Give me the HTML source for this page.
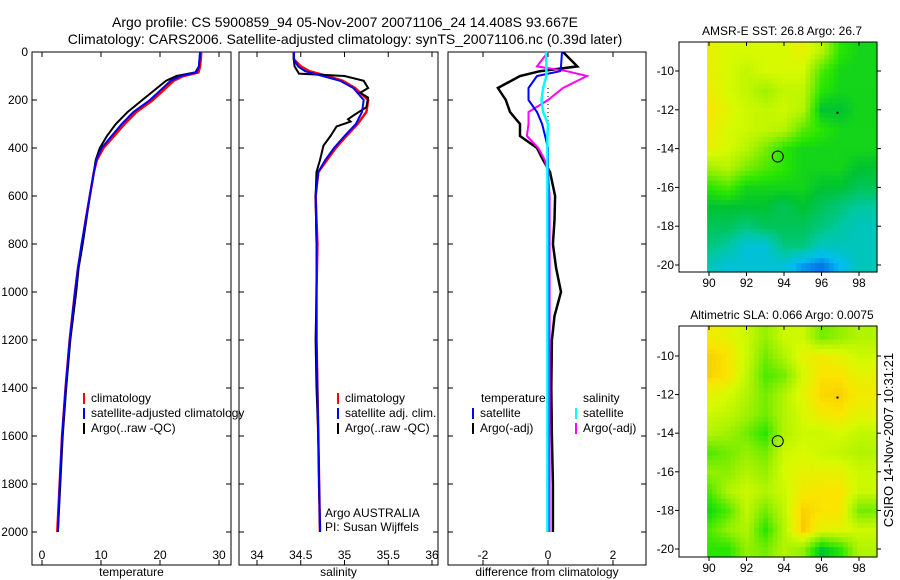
<!DOCTYPE html>
<html><head><meta charset="utf-8">
<style>
body{margin:0;background:#fff;}
svg{display:block;font-family:"Liberation Sans",sans-serif;}
</style></head>
<body>
<svg id="fig" width="900" height="580" viewBox="0 0 900 580">
<text x="345" y="27" font-size="14" text-anchor="middle">Argo profile: CS 5900859_94 05-Nov-2007 20071106_24 14.408S 93.667E</text>
<text x="345" y="44" font-size="14" text-anchor="middle">Climatology: CARS2006. Satellite-adjusted climatology: synTS_20071106.nc (0.39d later)</text>
<text transform="translate(893,440) rotate(-90)" font-size="13" text-anchor="middle">CSIRO 14-Nov-2007 10:31:21</text>
</svg>
<script>
// ---------- data ----------
const tDepth=[0,60,85,100,120,150,200,250,300,350,400,450,500,600,700,800,900,1000,1200,1400,1600,1800,2000];
const tClim=[27,26.8,26.5,24,22.3,21,18.8,16,14,12.2,10.4,9.3,8.8,8.1,7.4,6.8,6.1,5.6,4.7,4,3.4,3,2.6];
const tSat=[26.8,26.6,26.2,23.5,21.8,20.5,18.3,15.5,13.5,11.8,10.1,9.2,8.8,8.1,7.4,6.7,6.1,5.6,4.7,4,3.4,3,2.7];
const tArgo=[26.8,26.6,26,22.8,21,19.5,17,14.5,12.5,11,9.8,9.1,8.8,8.1,7.5,6.9,6.2,5.8,4.8,4.1,3.5,3.1,2.7];
const sDepth=[0,30,60,80,100,120,150,200,250,300,350,400,450,500,600,800,1000,1200,1400,1600,1800,2000];
const sClim=[34.42,34.42,34.5,34.6,34.8,34.98,35.12,35.27,35.25,35.15,35.02,34.9,34.8,34.7,34.67,34.69,34.68,34.68,34.69,34.7,34.71,34.72];
const sSat=[34.42,34.42,34.47,34.55,34.75,34.95,35.1,35.22,35.2,35.13,35.0,34.88,34.78,34.7,34.67,34.68,34.68,34.68,34.69,34.7,34.71,34.72];
const aDepth=[0,30,60,90,100,120,150,170,190,230,260,280,290,310,350,390,450,500,600,800,1000,1200,1400,1600,1800,2000];
const sArgo=[34.42,34.42,34.43,34.48,35.0,35.22,35.27,35.18,35.27,35.25,35.12,35.04,35.07,34.91,34.84,34.76,34.72,34.68,34.67,34.68,34.68,34.67,34.68,34.7,34.71,34.72];
const dDepth=[0,60,80,100,150,200,250,300,350,400,450,500,600,700,800,900,1000,1100,1200,1400,1600,1800,2000];
const dTempArgo=[0.46,0.9,-0.25,-0.86,-1.54,-1.3,-1.17,-0.86,-0.86,-0.34,-0.15,0.06,0.22,0.2,0.15,0.25,0.4,0.2,0.12,0.1,0.12,0.15,0.15];
const dTempSat=[0.43,0.4,0.37,-0.34,-0.6,-0.6,-0.34,-0.18,-0.09,0,0,0,0,0,0,0,0,0,0,0,0,0,0];
const dSalArgo=[0,-0.34,0.58,1.2,0.46,0,-0.6,-0.6,-0.65,-0.3,-0.1,0,0.05,0.05,0.05,0.05,0.05,0.05,0.05,0.05,0.05,0.05,0.05];
const dSalSat=[-0.06,-0.05,-0.05,-0.05,-0.15,-0.2,-0.15,0,-0.02,-0.02,-0.02,-0.02,-0.02,-0.02,-0.02,-0.02,-0.02,-0.02,-0.02,-0.02,-0.02,-0.02,-0.02];
const depthTicks=[0,200,400,600,800,1000,1200,1400,1600,1800,2000];
const tTicks=[0,10,20,30];
const sTicks=[34,34.5,35,35.5,36];
const dTicks=[-2,0,2];
const lonTicks=[90,92,94,96,98];
const latTicks=[-10,-12,-14,-16,-18,-20];
const mapLons=[90,91,92,93,94,95,96,97,98];
const mapLats=[-9,-10,-11,-12,-13,-14,-15,-16,-17,-18,-19,-20];
const sstGrid=[
[.86,.82,.82,.82,.82,.86,.76,.55,.5],
[.86,.82,.78,.82,.82,.82,.6,.5,.5],
[.87,.82,.78,.72,.78,.78,.55,.5,.5],
[.9,.84,.8,.78,.8,.76,.45,.45,.5],
[.88,.82,.8,.78,.76,.62,.55,.5,.5],
[.86,.82,.76,.66,.55,.5,.5,.5,.5],
[.72,.76,.66,.6,.55,.5,.5,.5,.45],
[.55,.6,.5,.5,.5,.5,.45,.45,.4],
[.45,.45,.45,.45,.4,.45,.4,.35,.3],
[.4,.4,.35,.4,.4,.4,.35,.3,.25],
[.35,.3,.2,.2,.35,.35,.25,.25,.25],
[.25,.2,.2,.2,.2,.1,.05,.15,.25]];
const slaGrid=[
[.88,.85,.8,.7,.8,.8,.65,.7,.75],
[.93,.9,.8,.65,.75,.85,.88,.85,.8],
[.93,.9,.78,.6,.65,.82,.9,.9,.85],
[.85,.82,.75,.65,.75,.85,.92,.93,.88],
[.8,.78,.72,.65,.75,.82,.88,.9,.85],
[.75,.72,.65,.55,.75,.8,.8,.82,.78],
[.6,.65,.7,.65,.8,.82,.8,.78,.75],
[.7,.68,.75,.7,.82,.85,.85,.85,.8],
[.6,.75,.8,.75,.8,.88,.9,.9,.8],
[.5,.6,.78,.65,.78,.93,.9,.9,.65],
[.6,.7,.75,.55,.75,.95,.85,.85,.8],
[.55,.55,.7,.65,.75,.7,.45,.55,.75]];
const argoLon=93.667, argoLat=-14.408;

// ---------- helpers ----------
const svg=document.getElementById('fig');
const NS='http://www.w3.org/2000/svg';
function mk(tag,attrs,parent){const e=document.createElementNS(NS,tag);for(const k in attrs)e.setAttribute(k,attrs[k]);(parent||svg).appendChild(e);return e;}
function txt(x,y,s,size,anchor,parent){const e=mk('text',{x:x,y:y,'font-size':size,'text-anchor':anchor||'middle'},parent);e.textContent=s;return e;}
const yD=d=>52+d*0.24;
const PTOP=52,PBOT=565;

function panel(name,x0,x1,fx,ticks,label){
  const g=mk('g',{});
  
  
  const r=mk('rect',{x:x0,y:PTOP,width:x1-x0,height:PBOT-PTOP,fill:'none',stroke:'#000','stroke-width':1},g);
  
  
  ticks.forEach(t=>{const x=fx(t);
    mk('line',{x1:x,x2:x,y1:PTOP,y2:PTOP+5,stroke:'#000'},g);
    mk('line',{x1:x,x2:x,y1:PBOT,y2:PBOT-5,stroke:'#000'},g);
    const l=txt(x,559,String(t),12,'middle',g);
    
    
  });
  depthTicks.forEach(d=>{const y=yD(d);
    mk('line',{x1:x0,x2:x0+5,y1:y,y2:y,stroke:'#000'},g);
    mk('line',{x1:x1,x2:x1-5,y1:y,y2:y,stroke:'#000'},g);
  });
  const t=txt((x0+x1)/2,576,label,12,'middle',g);
  
  
  return g;
}
function line(g,name,xs,ds,fx,color,w){
  const pts=xs.map((v,i)=>fx(v).toFixed(1)+','+yD(ds[i]).toFixed(1)).join(' ');
  const p=mk('polyline',{points:pts,fill:'none',stroke:color,'stroke-width':w},g);
  
  
}
function legend(g,name,x,y,color,label){
  const m=mk('line',{x1:x,x2:x,y1:y-9,y2:y+2,stroke:color,'stroke-width':2},g);
  
  
  const t=txt(x+7,y,label,12,'start',g);
  
  
}

depthTicks.forEach(d=>{const t=txt(28,yD(d)+4,String(d),12,'end');
  
  });

// panel 1 temperature
const fT=v=>42+v*5.9;
const g1=panel('temperature-panel',32,231,fT,tTicks,'temperature');
line(g1,'temperature-climatology',tClim,tDepth,fT,'#f00',2.5);
line(g1,'temperature-argo',tArgo,tDepth,fT,'#000',2);
line(g1,'temperature-satellite',tSat,tDepth,fT,'#00f',2);
legend(g1,'legend-climatology',84,402,'#f00','climatology');
legend(g1,'legend-satellite-adjusted',84,417,'#00f','satellite-adjusted climatology');
legend(g1,'legend-argo',84,432,'#000','Argo(..raw -QC)');

// panel 2 salinity
const fS=v=>257+(v-34)*87.5;
const g2=panel('salinity-panel',239,438,fS,sTicks,'salinity');
line(g2,'salinity-climatology',sClim,sDepth,fS,'#f00',2.5);
line(g2,'salinity-argo',sArgo,aDepth,fS,'#000',2);
line(g2,'salinity-satellite',sSat,sDepth,fS,'#00f',2);
legend(g2,'legend-sal-climatology',338,402,'#f00','climatology');
legend(g2,'legend-sal-satellite',338,417,'#00f','satellite adj. clim.');
legend(g2,'legend-sal-argo',338,432,'#000','Argo(..raw -QC)');
const c1=txt(325,517,'Argo AUSTRALIA',12,'start',g2);


const c2=txt(325,531,'PI: Susan Wijffels',12,'start',g2);



// panel 3 differences
const fD=v=>548+v*32.5;
const g3=panel('difference-panel',448,646,fD,dTicks,'difference from climatology');
mk('line',{x1:548,x2:548,y1:yD(150),y2:yD(500),stroke:'#000','stroke-dasharray':'1,3'},g3);
line(g3,'diff-temp-argo',dTempArgo,dDepth,fD,'#000',2.5);
line(g3,'diff-sal-argo',dSalArgo,dDepth,fD,'#f0f',2);
line(g3,'diff-temp-satellite',dTempSat,dDepth,fD,'#00f',2);
line(g3,'diff-sal-satellite',dSalSat,dDepth,fD,'#0ff',2.5);
const lt=txt(481,402,'temperature',12,'start',g3);


const ls=txt(583,402,'salinity',12,'start',g3);


legend(g3,'legend-diff-temp-sat',473,417,'#00f','satellite');
legend(g3,'legend-diff-temp-argo',473,432,'#000','Argo(-adj)');
legend(g3,'legend-diff-sal-sat',576,417,'#0ff','satellite');
legend(g3,'legend-diff-sal-argo',576,432,'#f0f','Argo(-adj)');

// ---------- maps ----------
const stops=[[0,[0,80,230]],[0.15,[0,190,240]],[0.3,[0,200,160]],[0.45,[0,195,50]],[0.55,[40,230,0]],[0.7,[150,240,0]],[0.82,[215,250,0]],[0.9,[250,228,0]],[1,[250,165,0]]];
function cmap(v){v=Math.max(0,Math.min(1,v));for(let i=1;i<stops.length;i++){if(v<=stops[i][0]){const a=stops[i-1],b=stops[i];const f=(v-a[0])/(b[0]-a[0]);return 'rgb('+a[1].map((c,k)=>Math.round(c+(b[1][k]-c)*f)).join(',')+')';}}return 'rgb(250,165,0)';}
function sample(grid,lon,lat){
  let fx=lon-mapLons[0], fy=-9-lat;
  fx=Math.max(0,Math.min(mapLons.length-1.001,fx));
  fy=Math.max(0,Math.min(mapLats.length-1.001,fy));
  const i=Math.floor(fx),j=Math.floor(fy),u=fx-i,w=fy-j;
  return grid[j][i]*(1-u)*(1-w)+grid[j][i+1]*u*(1-w)+grid[j+1][i]*(1-u)*w+grid[j+1][i+1]*u*w;
}

function map(name,top,bot,lat10y,ky,grid,title){
  const g=mk('g',{});
  
  
  const fx=lon=>709+(lon-90)*18.75;
  const fy=lat=>lat10y+(-10-lat)*ky;
  const xL=707,xR=877;
  const step=0.25;
  for(let lat=-8.4;lat>-20.5;lat-=step){
    for(let lon=89.9;lon<99;lon+=step){
      const x=Math.max(xL,fx(lon)), x2=Math.min(xR,fx(lon+step));
      const y=Math.max(top,fy(lat)), y2=Math.min(bot,fy(lat-step));
      if(x2>x&&y2>y){const c=mk('rect',{x:x.toFixed(1),y:y.toFixed(1),width:(x2-x+0.6).toFixed(1),height:(y2-y+0.6).toFixed(1),fill:cmap(sample(grid,lon+step/2,lat-step/2))},g);
        
        }
    }
  }
  const f=mk('rect',{x:679,y:top,width:198,height:bot-top,fill:'none',stroke:'#000'},g);
  
  
  lonTicks.forEach(l=>{const x=fx(l);
    mk('line',{x1:x,x2:x,y1:bot,y2:bot+4,stroke:'#000'},g);
    mk('line',{x1:x,x2:x,y1:top,y2:top+4,stroke:'#000'},g);
    const t=txt(x,bot+15,String(l),12,'middle',g);
    
    });
  latTicks.forEach(l=>{const y=fy(l);
    mk('line',{x1:877,x2:881,y1:y,y2:y,stroke:'#000'},g);
    mk('line',{x1:675,x2:679,y1:y,y2:y,stroke:'#000'},g);
    const t=txt(674,y+4,String(l),12,'end',g);
    
    });
  const c=mk('circle',{cx:fx(argoLon),cy:fy(argoLat),r:5.5,fill:'none',stroke:'#000'},g);
  
  
  mk('rect',{x:fx(96.8),y:fy(-12.1),width:2,height:2,fill:'#000'},g);
  const t=txt(782,top-7,title,12,'middle',g);
  
  
}
map('sst-map',42,272,71,19.4,sstGrid,'AMSR-E SST: 26.8 Argo: 26.7');
map('sla-map',326,557,356,19.3,slaGrid,'Altimetric SLA: 0.066 Argo: 0.0075');
</script>
</body></html>
